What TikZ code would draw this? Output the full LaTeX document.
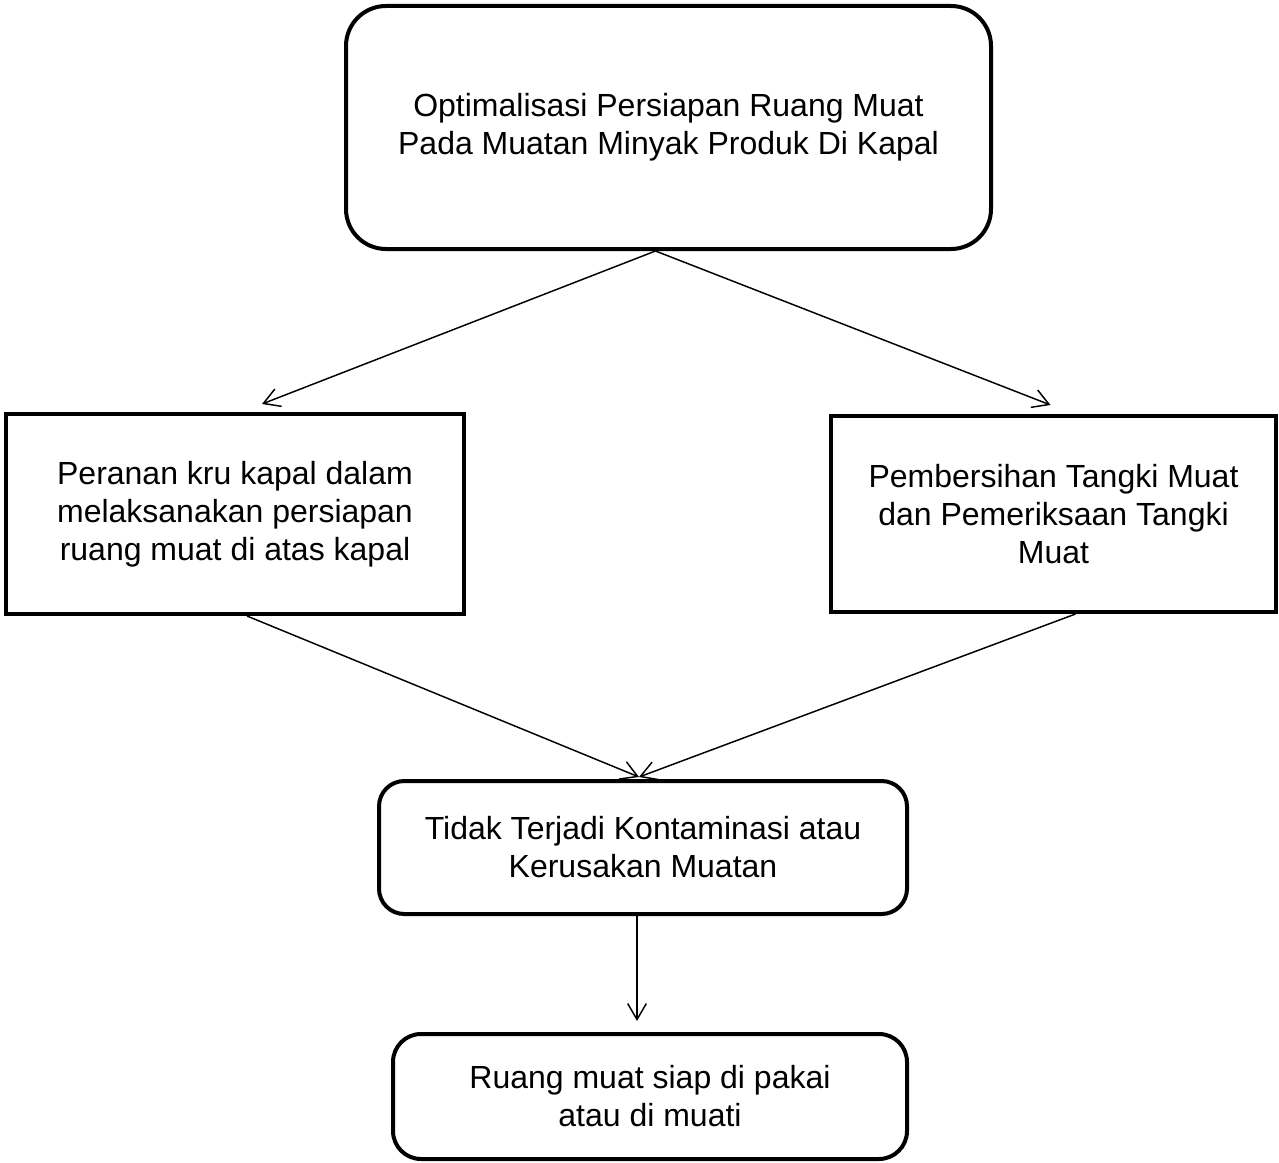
\documentclass[tikz,border=0pt]{standalone}
\usepackage{fontspec}
\setmainfont{Liberation Sans}
\usetikzlibrary{arrows.meta,calc}
\begin{document}
\begin{tikzpicture}[x=0.75pt,y=-0.75pt,
  boxtext/.style={align=center,font=\fontsize{24pt}{28.5pt}\selectfont,inner sep=0pt},
  heavybox/.style={draw,line width=3pt,boxtext},
  link/.style={line width=1.1pt,-{Straight Barb[length=12pt,width=14pt,line width=1.1pt]}}]
\useasboundingbox (0,0) rectangle (1279,1163);
\node[heavybox,rounded corners=30pt,minimum width=645*0.75pt,minimum height=243*0.75pt] (top) at (668.5,127.5)
  {Optimalisasi Persiapan Ruang Muat\\Pada Muatan Minyak Produk Di Kapal};
\node[heavybox,minimum width=458*0.75pt,minimum height=200*0.75pt] (left) at (235,514)
  {Peranan kru kapal dalam\\melaksanakan persiapan\\ruang muat di atas kapal};
\node[heavybox,minimum width=445*0.75pt,minimum height=196*0.75pt] (right) at (1053.5,514)
  {Pembersihan Tangki Muat\\dan Pemeriksaan Tangki\\Muat};
\node[heavybox,rounded corners=19pt,minimum width=528*0.75pt,minimum height=133*0.75pt] (mid) at (643,847.5)
  {Tidak Terjadi Kontaminasi atau\\Kerusakan Muatan};
\node[heavybox,rounded corners=21pt,minimum width=514*0.75pt,minimum height=125*0.75pt] (bot) at (650,1096.5)
  {Ruang muat siap di pakai\\atau di muati};
\coordinate (ts) at ($(top.south)+(-13,0)$);
\coordinate (le) at ($(left.north)+(27,-8)$);
\coordinate (re) at ($(right.north)+(-3,-9)$);
\coordinate (ls) at ($(left.south)+(12,0)$);
\coordinate (rs) at ($(right.south)+(22,0)$);
\coordinate (me) at ($(mid.north)+(-4,-2)$);
\coordinate (ms) at ($(mid.south)+(-6,0)$);
\coordinate (be) at ($(bot.north)+(-13,-11)$);
\draw[link] (ts) -- (le);
\draw[link] (ts) -- (re);
\draw[link] (ls) -- (me);
\draw[link] (rs) -- (me);
\draw[link] (ms) -- (be);
\end{tikzpicture}
\end{document}
